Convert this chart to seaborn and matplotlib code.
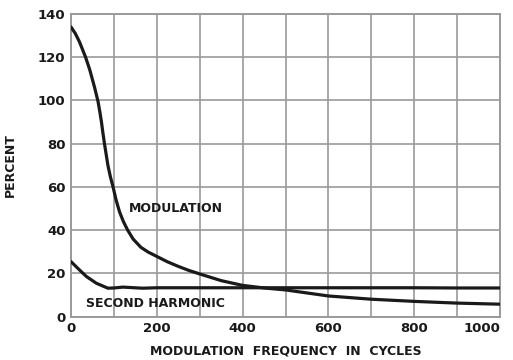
import matplotlib
matplotlib.use("Agg")
import matplotlib.pyplot as plt
import seaborn as sns
import pandas as pd

# Modulation percentage vs modulation frequency
mod_freq = [0, 10, 20, 34, 44, 55, 63, 67, 71, 74, 78, 86, 92, 98, 105, 113,
            122, 132, 145, 163, 180, 200, 225, 250, 275, 300, 350, 400, 450,
            500, 600, 700, 800, 900, 1000]
mod_pct = [134, 131, 127, 120, 114, 106, 99.5, 95, 90, 85.5, 80, 70, 64.5, 60,
           54, 48.5, 44, 40, 35.8, 32, 29.8, 27.8, 25.3, 23.2, 21.3, 19.7, 16.6,
           14.4, 13.2, 12.3, 9.5, 8.0, 7.0, 6.2, 5.7]

# Second harmonic percentage vs modulation frequency
harm_freq = [0, 20, 36, 59, 86, 100, 121, 167, 200, 300, 400, 500, 600, 700,
             800, 900, 1000]
harm_pct = [25.4, 21.5, 18.5, 15.4, 13.1, 13.2, 13.6, 13.1, 13.3, 13.3, 13.3,
            13.3, 13.3, 13.3, 13.3, 13.2, 13.2]

x_ticks = [0, 200, 400, 600, 800, 1000]
y_ticks = [0, 20, 40, 60, 80, 100, 120, 140]

df = pd.concat([
    pd.DataFrame({"freq": mod_freq, "pct": mod_pct, "curve": "MODULATION"}),
    pd.DataFrame({"freq": harm_freq, "pct": harm_pct, "curve": "SECOND HARMONIC"}),
])

sns.set_style("white")
plt.rcParams["font.family"] = ["DejaVu Sans"]
plt.rcParams["font.weight"] = "bold"

ink = "#1a1a1a"
grid_c = "#9a9a9a"
fig = plt.figure(figsize=(5.13, 3.60), dpi=100)
ax = fig.add_axes([71 / 513, 1 - 316.5 / 360, 429 / 513, 302.5 / 360])

sns.lineplot(data=df, x="freq", y="pct", hue="curve", ax=ax,
             palette={"MODULATION": ink, "SECOND HARMONIC": ink},
             linewidth=2.3, legend=False, zorder=3)

ax.set_xlim(0, 1000)
ax.set_ylim(0, 140)
ax.set_xticks(range(0, 1001, 100))
ax.set_xticklabels([str(v) if v in x_ticks else "" for v in range(0, 1001, 100)])
ax.set_yticks(y_ticks)
ax.set_yticklabels([str(v) for v in y_ticks])
ax.grid(True, color=grid_c, linewidth=1.2, zorder=0)
for s in ax.spines.values():
    s.set_visible(True)
    s.set_color(grid_c)
    s.set_linewidth(1.4)
ax.tick_params(length=0, labelsize=9.5, pad=4, colors=ink)
for lbl in ax.get_xticklabels() + ax.get_yticklabels():
    lbl.set_fontweight("bold")
# keep the last frequency label inside the canvas
ax.get_xticklabels()[-1].set_horizontalalignment("right")
ax.get_xticklabels()[-1].set_x(1000)

ax.set_xlabel("MODULATION  FREQUENCY  IN  CYCLES", fontsize=9,
              fontweight="bold", color=ink, labelpad=7)
ax.set_ylabel("PERCENT", fontsize=9, fontweight="bold", color=ink)
ax.yaxis.set_label_coords(-0.126, 0.5)

ax.text(245, 50, "MODULATION", ha="center", va="center", fontsize=9,
        fontweight="bold", color=ink)
ax.text(196, 6, "SECOND HARMONIC", ha="center", va="center", fontsize=9,
        fontweight="bold", color=ink)

fig.savefig("out.png", dpi=100)
